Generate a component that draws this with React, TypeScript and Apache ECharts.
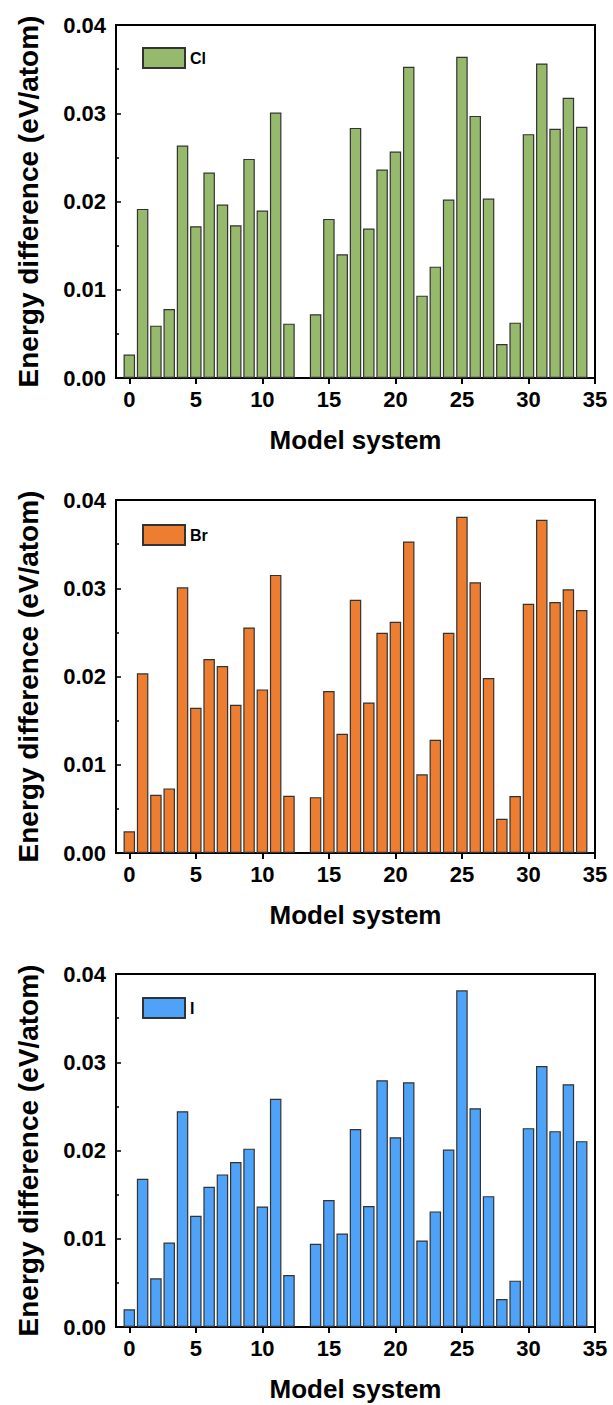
import React, { useEffect, useRef } from "react";
import * as echarts from "echarts";

const systems = [0, 1, 2, 3, 4, 5, 6, 7, 8, 9, 10, 11, 12, 13, 14, 15, 16, 17, 18, 19, 20, 21, 22, 23, 24, 25, 26, 27, 28, 29, 30, 31, 32, 33, 34];

const clValues = [
  0.00265, 0.01916, 0.00593, 0.00782, 0.02634, 0.0172, 0.02328, 0.01965, 0.01731, 0.02483,
  0.01897, 0.03008, 0.00616, null, 0.00722, 0.01803, 0.01402, 0.02834, 0.01693, 0.02362,
  0.02566, 0.03526, 0.00933, 0.01262, 0.02022, 0.0364, 0.0297, 0.02033, 0.00385, 0.00627,
  0.02763, 0.03564, 0.02823, 0.03175, 0.02846,
];

const brValues = [
  0.00246, 0.02036, 0.0066, 0.00732, 0.0301, 0.01645, 0.02199, 0.02119, 0.0168, 0.02555,
  0.01854, 0.03151, 0.00648, null, 0.00633, 0.01835, 0.0135, 0.0287, 0.01706, 0.02495,
  0.0262, 0.0353, 0.00891, 0.01282, 0.02495, 0.0381, 0.03067, 0.01983, 0.00387, 0.00645,
  0.02825, 0.03776, 0.02844, 0.02988, 0.02753,
];

const iValues = [
  0.002, 0.0168, 0.00553, 0.00957, 0.02445, 0.0126, 0.01589, 0.01729, 0.01869, 0.02021,
  0.01366, 0.02585, 0.0059, null, 0.00942, 0.01438, 0.0106, 0.02244, 0.0137, 0.02796,
  0.0215, 0.02774, 0.00981, 0.0131, 0.02011, 0.03815, 0.02479, 0.01483, 0.00317, 0.00525,
  0.02253, 0.02958, 0.02219, 0.02751, 0.02106,
];

const xTickValues = [0, 5, 10, 15, 20, 25, 30, 35];
const seriesNames = ["Cl", "Br", "I"];
const seriesColors = ["#97B96C", "#ED7D31", "#4EA2F7"];
const yAxisTitle = "Energy difference (eV/atom)";
const xAxisTitle = "Model system";

const FONT = "'Liberation Sans', Arial, sans-serif";

export default function App() {
  const ref = useRef<HTMLDivElement>(null);

  useEffect(() => {
    if (!ref.current) return;
    const chart = echarts.init(ref.current, null, { renderer: "svg" });
    const allValues = [clValues, brValues, iValues];
    const tops = [25, 500, 974];
    const legendTops = [47, 524, 997];
    const gridLeft = 116;
    const gridWidth = 479;
    const gridHeight = 353;

    const grids = tops.map((t) => ({
      left: gridLeft,
      top: t,
      width: gridWidth,
      height: gridHeight,
      show: true,
      borderColor: "#000",
      borderWidth: 2,
      backgroundColor: "transparent",
    }));

    const xAxes = tops.map((_, i) => ({
      type: "value",
      gridIndex: i,
      min: -1,
      max: 35,
      name: xAxisTitle,
      nameLocation: "middle",
      nameGap: 49,
      nameTextStyle: { fontSize: 26, fontWeight: "bold", color: "#000", fontFamily: FONT },
      axisLine: { show: true, onZero: false, lineStyle: { color: "#000", width: 2 } },
      axisTick: {
        show: true,
        inside: false,
        length: 6,
        customValues: xTickValues,
        lineStyle: { color: "#000", width: 2 },
      },
      axisLabel: {
        show: true,
        customValues: xTickValues,
        margin: 10,
        fontSize: 22,
        fontWeight: "bold",
        color: "#000",
        fontFamily: FONT,
      },
      splitLine: { show: false },
    }));

    const yAxes = tops.map((_, i) => ({
      type: "value",
      gridIndex: i,
      min: 0,
      max: 0.04,
      interval: 0.01,
      name: yAxisTitle,
      nameLocation: "middle",
      nameGap: 74,
      nameTextStyle: { fontSize: 28, fontWeight: "bold", color: "#000", fontFamily: FONT },
      axisLine: { show: true, onZero: false, lineStyle: { color: "#000", width: 2 } },
      axisTick: { show: true, inside: true, length: 5, lineStyle: { color: "#000", width: 1.5 } },
      minorTick: { show: true, splitNumber: 2, length: 3, lineStyle: { color: "#000", width: 1.5 } },
      axisLabel: {
        margin: 10,
        fontSize: 22,
        fontWeight: "bold",
        color: "#000",
        fontFamily: FONT,
        formatter: (v: number) => v.toFixed(2),
      },
      splitLine: { show: false },
    }));

    const series = allValues.map((vals, i) => ({
      type: "bar",
      name: seriesNames[i],
      xAxisIndex: i,
      yAxisIndex: i,
      barWidth: 11.5,
      itemStyle: { color: seriesColors[i], borderColor: "#333", borderWidth: 1.2 },
      data: systems
        .map((s, k) => (vals[k] == null ? null : [s, vals[k]]))
        .filter((d) => d != null),
    }));

    const legends = tops.map((_, i) => ({
      data: [seriesNames[i]],
      left: 142,
      top: legendTops[i],
      padding: 0,
      orient: "horizontal",
      icon: "rect",
      itemWidth: 42,
      itemHeight: 20,
      itemGap: 5,
      textStyle: { fontSize: 16, fontWeight: "bold", color: "#000", fontFamily: FONT },
      selectedMode: false,
    }));

    chart.setOption({
      animation: false,
      backgroundColor: "#fff",
      grid: grids,
      xAxis: xAxes,
      yAxis: yAxes,
      legend: legends,
      series,
    });

    return () => chart.dispose();
  }, []);

  return (
    <div
      ref={ref}
      style={{ position: "absolute", left: 0, top: 0, width: 613, height: 1405 }}
    />
  );
}
